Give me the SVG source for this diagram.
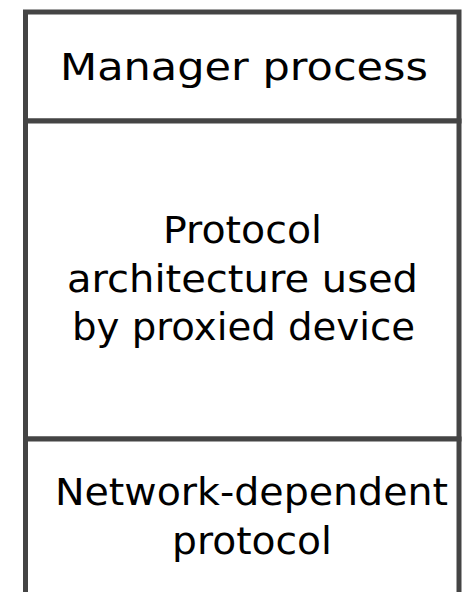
<svg xmlns="http://www.w3.org/2000/svg" width="466" height="592" viewBox="0 0 466 592">
<style>
.box{fill:#fff;stroke:#444;stroke-width:5}
.t{font-family:"Comic Sans MS","DejaVu Sans",sans-serif;font-size:37px;fill:#000;text-anchor:middle}
</style>
<rect width="466" height="592" fill="#fff"/>
<g id="manager">
<rect class="box" x="25.5" y="12" width="433.5" height="109"/>
<text class="t" x="244" y="80" textLength="368" lengthAdjust="spacingAndGlyphs">Manager process</text>
</g>
<g id="protocol-arch">
<rect class="box" x="25.5" y="121" width="433.5" height="318"/>
<text class="t" x="242.5" y="243" textLength="159" lengthAdjust="spacingAndGlyphs">Protocol</text>
<text class="t" x="242.5" y="292" textLength="351" lengthAdjust="spacingAndGlyphs">architecture used</text>
<text class="t" x="243.5" y="340" textLength="343" lengthAdjust="spacingAndGlyphs">by proxied device</text>
</g>
<g id="network">
<rect class="box" x="25.5" y="439" width="433.5" height="170"/>
<text class="t" x="251.5" y="505" textLength="393" lengthAdjust="spacingAndGlyphs">Network-dependent</text>
<text class="t" x="252" y="554" textLength="160" lengthAdjust="spacingAndGlyphs">protocol</text>
</g>
<g id="connectors"/>
</svg>
